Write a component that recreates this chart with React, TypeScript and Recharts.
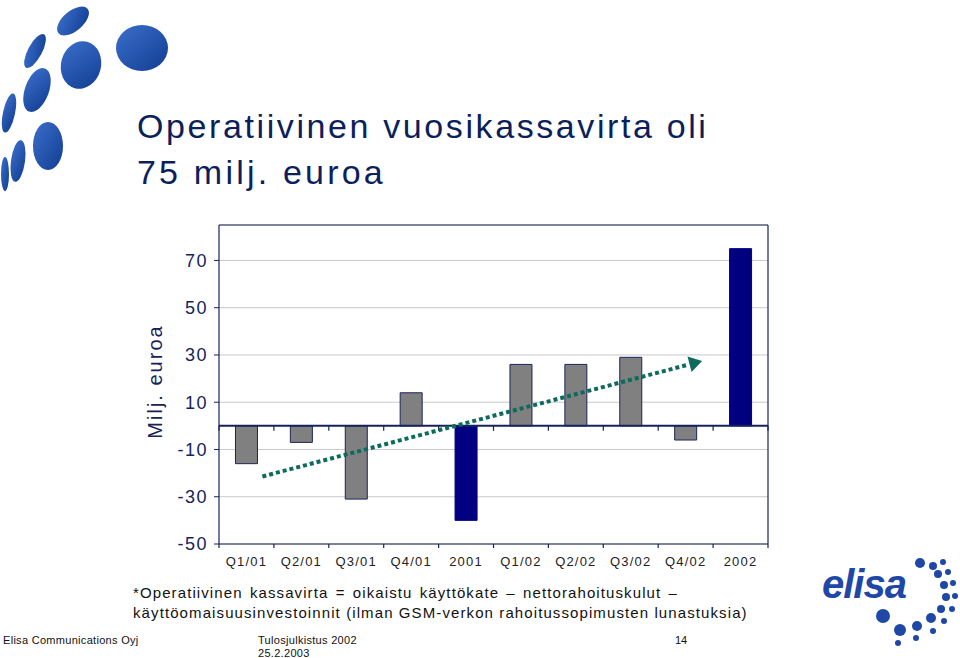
import React from 'react';
import {
  ComposedChart,
  Bar,
  Cell,
  XAxis,
  YAxis,
  CartesianGrid,
  ReferenceLine,
} from 'recharts';

// ---- data ----
const categories = ['Q1/01', 'Q2/01', 'Q3/01', 'Q4/01', '2001', 'Q1/02', 'Q2/02', 'Q3/02', 'Q4/02', '2002'];
const cashFlow = [-16, -7, -31, 14, -40, 26, 26, 29, -6, 75];
const isAnnual = [false, false, false, false, true, false, false, false, false, true];
const yTicks = [-50, -30, -10, 10, 30, 50, 70];
const yDomain = [-50, 85];
// trend arrow anchored on category centres (value of the trend at that category)
const trendStart = { x: 'Q1/01', y: -23.2 };
const trendEnd = { x: 'Q4/02', y: 25.6 };

const data = categories.map((name, i) => ({ name, value: cashFlow[i], annual: isAnnual[i] }));

const FONT = '"Liberation Sans", Arial, Helvetica, sans-serif';
const NAVY = '#16235a';
const TITLE = '#0c1f5c';
const BAR_GRAY = '#808080';
const BAR_NAVY = '#000080';
const TEAL = '#0c6b5d';
const LOGO = '#1f47a6';

const tickCount = categories.length;

const AxisTicksShape = (withLine: boolean, len: number, width: number) => (p: any) => {
  const { x1, y1, x2, y2 } = p;
  const step = (x2 - x1) / tickCount;
  return (
    <g>
      {withLine && <line x1={x1} y1={y1} x2={x2} y2={y2} stroke={NAVY} strokeWidth={width} />}
      {Array.from({ length: tickCount + 1 }, (_, i) => (
        <line key={i} x1={x1 + i * step} x2={x1 + i * step} y1={y1} y2={y1 + len} stroke={NAVY} strokeWidth={1.2} />
      ))}
    </g>
  );
};

const TrendArrow = (p: any) => {
  const { x1, y1, x2, y2 } = p;
  const span = 8; // categories between the two anchors
  const tStart = 0.29 / span;
  const tTip = 1 + 0.3 / span;
  const sx = x1 + (x2 - x1) * tStart;
  const sy = y1 + (y2 - y1) * tStart;
  const tx = x1 + (x2 - x1) * tTip;
  const ty = y1 + (y2 - y1) * tTip;
  const dx = tx - sx;
  const dy = ty - sy;
  const L = Math.sqrt(dx * dx + dy * dy) || 1;
  const ux = dx / L;
  const uy = dy / L;
  const head = 13;
  const half = 8;
  const bx = tx - ux * head;
  const by = ty - uy * head;
  const lx = tx - ux * (head + 3);
  const ly = ty - uy * (head + 3);
  const nx = -uy;
  const ny = ux;
  return (
    <g>
      <line x1={sx} y1={sy} x2={lx} y2={ly} stroke={TEAL} strokeWidth={4} strokeDasharray="4 3" />
      <polygon
        points={`${tx},${ty} ${bx + nx * half},${by + ny * half} ${bx - nx * half},${by - ny * half}`}
        fill={TEAL}
      />
    </g>
  );
};

const YTick = (p: any) => {
  const v = p.payload?.value;
  const label = v < 0 ? `-${Math.abs(v)}` : `${v}`;
  return (
    <text x={p.x} y={p.y} dy="0.36em" textAnchor="end" fontSize={18} fill={NAVY} style={{ letterSpacing: 1.5 }} fontFamily={FONT}>
      {label}
    </text>
  );
};

const XTick = (p: any) => (
  <text x={p.x} y={p.y} dy="0.71em" textAnchor="middle" fontSize={13} fill="#222" style={{ letterSpacing: 1.2 }} fontFamily={FONT}>
    {p.payload?.value}
  </text>
);

const YLabel = (p: any) => {
  const vb = p.viewBox || { x: 159, y: 225, width: 60, height: 319 };
  const cx = vb.x + 3;
  const cy = vb.y + vb.height / 2 - 3;
  return (
    <text
      transform={`translate(${cx},${cy}) rotate(-90)`}
      textAnchor="middle"
      fontSize={20}
      fill={NAVY}
      fontFamily={FONT}
      style={{ letterSpacing: 2 }}
    >
      Milj. euroa
    </text>
  );
};

const topDots = [
  { cx: 73, cy: 21, rx: 19, ry: 10, a: -40 },
  { cx: 35, cy: 51, rx: 19, ry: 7, a: -62 },
  { cx: 81, cy: 65, rx: 20, ry: 24, a: 15 },
  { cx: 142, cy: 48, rx: 26, ry: 23, a: 0 },
  { cx: 37, cy: 90, rx: 12, ry: 23, a: 20 },
  { cx: 9, cy: 113, rx: 6, ry: 20, a: 12 },
  { cx: 48, cy: 146, rx: 15, ry: 24, a: 0 },
  { cx: 18, cy: 161, rx: 7, ry: 21, a: 8 },
  { cx: 5, cy: 174, rx: 4, ry: 17, a: 0 },
];

const logoDots = [
  { cx: 920, cy: 563, r: 5 },
  { cx: 933, cy: 566, r: 4 },
  { cx: 943, cy: 562, r: 3 },
  { cx: 938, cy: 574, r: 4 },
  { cx: 948, cy: 572, r: 3 },
  { cx: 944, cy: 585, r: 4 },
  { cx: 953, cy: 583, r: 3 },
  { cx: 946, cy: 597, r: 4 },
  { cx: 955, cy: 596, r: 3 },
  { cx: 941, cy: 609, r: 4 },
  { cx: 952, cy: 609, r: 3 },
  { cx: 931, cy: 618, r: 5 },
  { cx: 944, cy: 621, r: 3 },
  { cx: 917, cy: 626, r: 5 },
  { cx: 933, cy: 631, r: 3 },
  { cx: 900, cy: 630, r: 6 },
  { cx: 916, cy: 638, r: 3 },
  { cx: 883, cy: 616, r: 7 },
  { cx: 898, cy: 643, r: 3 },
];

export default function App() {
  return (
    <div
      style={{
        position: 'absolute',
        left: 0,
        top: 0,
        width: 960,
        height: 658,
        background: '#fff',
        overflow: 'hidden',
        fontFamily: FONT,
      }}
    >
      <svg width={960} height={658} style={{ position: 'absolute', left: 0, top: 0 }}>
        <defs>
          <linearGradient id="dotGrad" x1="0" y1="0" x2="1" y2="1">
            <stop offset="0%" stopColor="#3b6fcb" />
            <stop offset="100%" stopColor="#123d92" />
          </linearGradient>
        </defs>
        {topDots.map((d, i) => (
          <ellipse
            key={i}
            cx={d.cx}
            cy={d.cy}
            rx={d.rx}
            ry={d.ry}
            transform={`rotate(${d.a},${d.cx},${d.cy})`}
            fill="url(#dotGrad)"
          />
        ))}
        <text x={137} y={138} fontSize={34} fill={TITLE} fontFamily={FONT} style={{ letterSpacing: 2.6 }}>
          Operatiivinen vuosikassavirta oli
        </text>
        <text x={137} y={184} fontSize={34} fill={TITLE} fontFamily={FONT} style={{ letterSpacing: 3.2 }}>
          75 milj. euroa
        </text>

        <text x={133} y={598} fontSize={15} fill="#111" fontFamily={FONT} style={{ letterSpacing: 1.1, wordSpacing: 2 }}>
          *Operatiivinen kassavirta = oikaistu käyttökate – nettorahoituskulut –
        </text>
        <text x={133} y={618} fontSize={15} fill="#111" fontFamily={FONT} style={{ letterSpacing: 1.1 }}>
          käyttöomaisuusinvestoinnit (ilman GSM-verkon rahoitussopimusten lunastuksia)
        </text>

        <text x={3} y={644} fontSize={11} fill="#111" fontFamily={FONT} style={{ letterSpacing: 0.3 }}>
          Elisa Communications Oyj
        </text>
        <text x={258} y={644} fontSize={11} fill="#111" fontFamily={FONT} style={{ letterSpacing: 0.3 }}>
          Tulosjulkistus 2002
        </text>
        <text x={258} y={657} fontSize={11} fill="#111" fontFamily={FONT} style={{ letterSpacing: 0.3 }}>
          25.2.2003
        </text>
        <text x={675} y={644} fontSize={11} fill="#111" fontFamily={FONT}>
          14
        </text>

        <text x={822} y={598} fontSize={40} fontWeight="bold" fontStyle="italic" fill={LOGO} fontFamily={FONT} style={{ letterSpacing: -1 }}>
          elisa
        </text>
        {logoDots.map((d, i) => (
          <circle key={i} cx={d.cx} cy={d.cy} r={d.r} fill={LOGO} />
        ))}
      </svg>

      <div style={{ position: 'absolute', left: 0, top: 0 }}>
        <ComposedChart
          width={960}
          height={658}
          data={data}
          margin={{ top: 225, right: 191, bottom: 84, left: 159 }}
          barCategoryGap="30%"
        >
          <CartesianGrid horizontal vertical={false} stroke="#c9c9c9" strokeWidth={1} />
          <XAxis
            dataKey="name"
            height={30}
            tickLine={false}
            axisLine={false}
            tickSize={6}
            tickMargin={7}
            interval={0}
            tick={<XTick />}
          />
          <YAxis
            domain={yDomain}
            ticks={yTicks}
            interval={0}
            width={60}
            allowDataOverflow
            tickSize={5}
            tickMargin={6}
            tickLine={{ stroke: NAVY }}
            axisLine={{ stroke: NAVY, strokeWidth: 1.2 }}
            tick={<YTick />}
            label={{ content: <YLabel /> }}
          />
          <YAxis
            yAxisId="frame"
            orientation="right"
            domain={yDomain}
            allowDataOverflow
            width={1}
            tick={false}
            tickLine={false}
            axisLine={{ stroke: NAVY, strokeWidth: 1.2 }}
          />
          <Bar dataKey="value" isAnimationActive={false}>
            {data.map((d, i) => (
              <Cell key={i} fill={d.annual ? BAR_NAVY : BAR_GRAY} stroke={d.annual ? BAR_NAVY : '#1c2456'} strokeWidth={1} />
            ))}
          </Bar>
          <ReferenceLine y={85} stroke={NAVY} strokeWidth={1.2} />
          <ReferenceLine y={0} stroke={NAVY} strokeWidth={2} shape={AxisTicksShape(true, 5, 2)} />
          <ReferenceLine y={-50} stroke={NAVY} strokeWidth={1} shape={AxisTicksShape(true, 4, 1.2)} />
          <ReferenceLine
            segment={[trendStart, trendEnd]}
            stroke={TEAL}
            strokeWidth={4}
            ifOverflow="visible"
            shape={TrendArrow}
          />
        </ComposedChart>
      </div>
    </div>
  );
}
